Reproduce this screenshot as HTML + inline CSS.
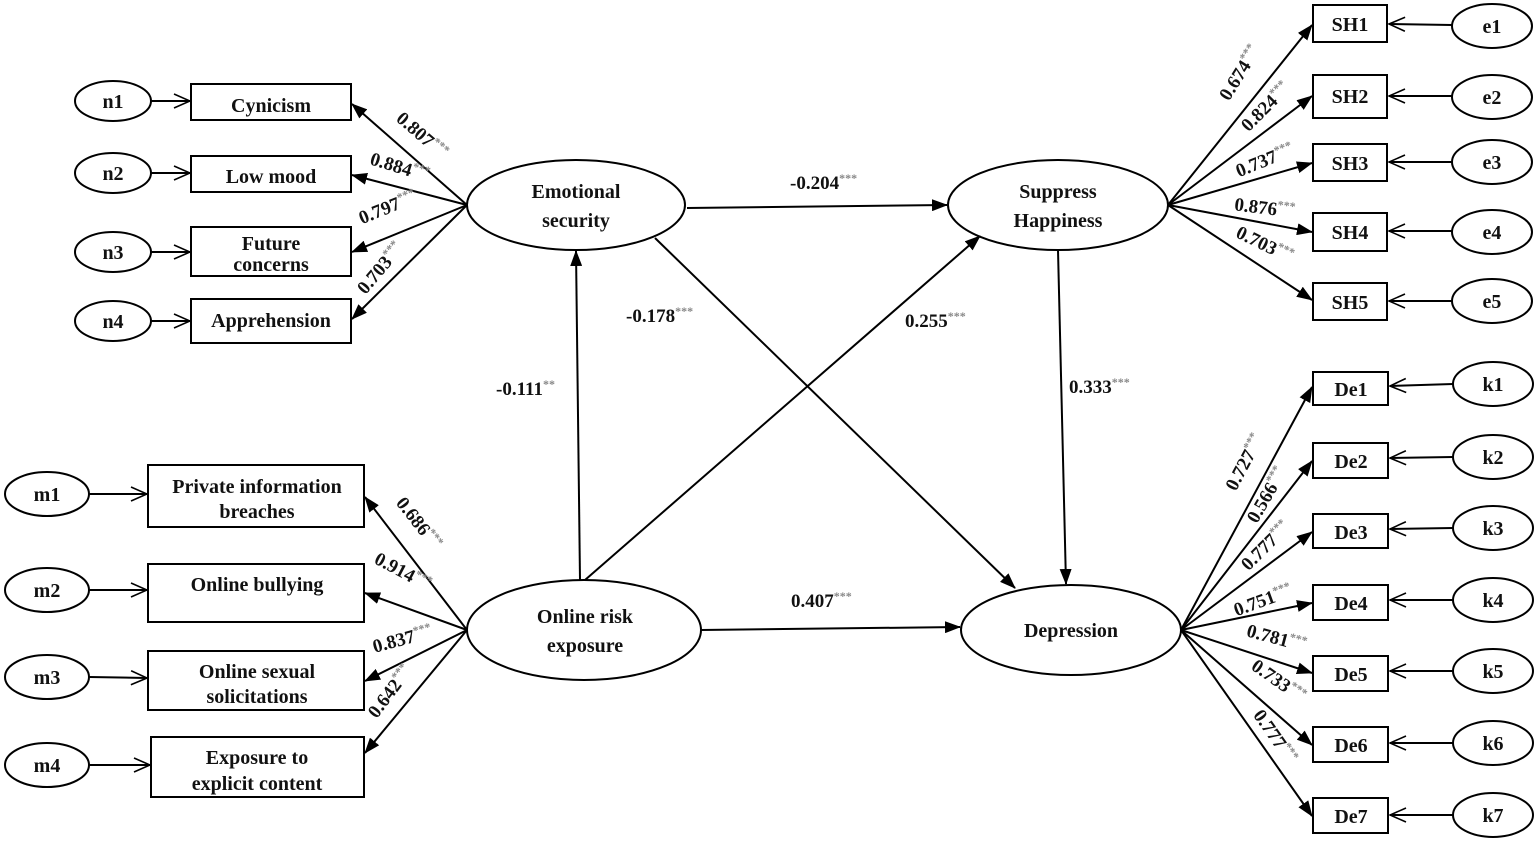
<!DOCTYPE html>
<html><head><meta charset="utf-8"><style>
html,body{margin:0;padding:0;background:#fff;}
svg{display:block;}
text{font-family:"Liberation Serif",serif;font-weight:bold;fill:#111;}
.t{font-size:20px;}
.l{font-size:19px;}
.s{font-size:12px;fill:#888;}
</style></head><body>
<svg width="1535" height="842" viewBox="0 0 1535 842" xmlns="http://www.w3.org/2000/svg">
<defs>
<marker id="f" markerWidth="16" markerHeight="12" refX="15" refY="6" orient="auto" markerUnits="userSpaceOnUse"><path d="M0,0 L16,6 L0,12 z" fill="#000"/></marker>
<marker id="o" markerWidth="18" markerHeight="16" refX="17" refY="8" orient="auto" markerUnits="userSpaceOnUse"><path d="M1,1 L17,8 L1,15" fill="none" stroke="#000" stroke-width="1.6"/></marker>
</defs>
<g stroke="#000" stroke-width="2" fill="none">
<!-- left top -->
<ellipse cx="113" cy="101" rx="38" ry="20"/><ellipse cx="113" cy="173" rx="38" ry="20"/><ellipse cx="113" cy="252" rx="38" ry="20"/><ellipse cx="113" cy="321" rx="38" ry="20"/>
<rect x="191" y="84" width="160" height="36"/><rect x="191" y="156" width="160" height="36"/><rect x="191" y="227" width="160" height="49"/><rect x="191" y="299" width="160" height="44"/>
<line x1="151" y1="101" x2="190" y2="101" marker-end="url(#o)"/><line x1="151" y1="173" x2="190" y2="173" marker-end="url(#o)"/><line x1="151" y1="252" x2="190" y2="252" marker-end="url(#o)"/><line x1="151" y1="321" x2="190" y2="321" marker-end="url(#o)"/>
<line x1="467" y1="205" x2="352" y2="104" marker-end="url(#f)"/><line x1="467" y1="205" x2="352" y2="175" marker-end="url(#f)"/><line x1="467" y1="205" x2="352" y2="252" marker-end="url(#f)"/><line x1="467" y1="205" x2="352" y2="319" marker-end="url(#f)"/>
<!-- left bottom -->
<ellipse cx="47" cy="494" rx="42" ry="22"/><ellipse cx="47" cy="590" rx="42" ry="22"/><ellipse cx="47" cy="677" rx="42" ry="22"/><ellipse cx="47" cy="765" rx="42" ry="22"/>
<rect x="148" y="465" width="216" height="62"/><rect x="148" y="564" width="216" height="58"/><rect x="148" y="651" width="216" height="59"/><rect x="151" y="737" width="213" height="60"/>
<line x1="89" y1="494" x2="147" y2="494" marker-end="url(#o)"/><line x1="89" y1="590" x2="147" y2="590" marker-end="url(#o)"/><line x1="89" y1="677" x2="147" y2="678" marker-end="url(#o)"/><line x1="89" y1="765" x2="150" y2="765" marker-end="url(#o)"/>
<line x1="467" y1="630" x2="365" y2="497" marker-end="url(#f)"/><line x1="467" y1="630" x2="365" y2="593" marker-end="url(#f)"/><line x1="467" y1="630" x2="365" y2="681" marker-end="url(#f)"/><line x1="467" y1="630" x2="365" y2="753" marker-end="url(#f)"/>
<!-- latents -->
<ellipse cx="576" cy="205" rx="109" ry="45"/><ellipse cx="1058" cy="205" rx="110" ry="45"/><ellipse cx="1071" cy="630" rx="110" ry="45"/><ellipse cx="584" cy="630" rx="117" ry="50"/>
<line x1="687" y1="208" x2="947" y2="205" marker-end="url(#f)"/>
<line x1="655" y1="238" x2="1015" y2="588" marker-end="url(#f)"/>
<line x1="580" y1="580" x2="576" y2="251" marker-end="url(#f)"/>
<line x1="585" y1="580" x2="980" y2="236" marker-end="url(#f)"/>
<line x1="1058" y1="250" x2="1066" y2="584" marker-end="url(#f)"/>
<line x1="701" y1="630" x2="960" y2="627" marker-end="url(#f)"/>
<!-- SH -->
<rect x="1313" y="5" width="74" height="37"/><rect x="1313" y="75" width="74" height="43"/><rect x="1313" y="144" width="74" height="37"/><rect x="1313" y="213" width="74" height="38"/><rect x="1313" y="283" width="74" height="37"/>
<ellipse cx="1492" cy="26" rx="40" ry="22"/><ellipse cx="1492" cy="97" rx="40" ry="22"/><ellipse cx="1492" cy="162" rx="40" ry="22"/><ellipse cx="1492" cy="232" rx="40" ry="22"/><ellipse cx="1492" cy="301" rx="40" ry="22"/>
<line x1="1452" y1="25" x2="1389" y2="24" marker-end="url(#o)"/><line x1="1452" y1="96" x2="1389" y2="96" marker-end="url(#o)"/><line x1="1452" y1="162" x2="1389" y2="162" marker-end="url(#o)"/><line x1="1452" y1="231" x2="1389" y2="231" marker-end="url(#o)"/><line x1="1452" y1="301" x2="1389" y2="301" marker-end="url(#o)"/>
<line x1="1168" y1="205" x2="1312" y2="25" marker-end="url(#f)"/><line x1="1168" y1="205" x2="1312" y2="96" marker-end="url(#f)"/><line x1="1168" y1="205" x2="1312" y2="163" marker-end="url(#f)"/><line x1="1168" y1="205" x2="1312" y2="232" marker-end="url(#f)"/><line x1="1168" y1="205" x2="1312" y2="300" marker-end="url(#f)"/>
<!-- De -->
<rect x="1313" y="372" width="75" height="33"/><rect x="1313" y="443" width="75" height="35"/><rect x="1313" y="514" width="75" height="34"/><rect x="1313" y="585" width="75" height="35"/><rect x="1313" y="656" width="75" height="35"/><rect x="1313" y="727" width="75" height="35"/><rect x="1313" y="798" width="75" height="35"/>
<ellipse cx="1493" cy="384" rx="40" ry="22"/><ellipse cx="1493" cy="457" rx="40" ry="22"/><ellipse cx="1493" cy="528" rx="40" ry="22"/><ellipse cx="1493" cy="600" rx="40" ry="22"/><ellipse cx="1493" cy="671" rx="40" ry="22"/><ellipse cx="1493" cy="743" rx="40" ry="22"/><ellipse cx="1493" cy="815" rx="40" ry="22"/>
<line x1="1453" y1="384" x2="1390" y2="386" marker-end="url(#o)"/><line x1="1453" y1="457" x2="1390" y2="458" marker-end="url(#o)"/><line x1="1453" y1="528" x2="1390" y2="529" marker-end="url(#o)"/><line x1="1453" y1="600" x2="1390" y2="600" marker-end="url(#o)"/><line x1="1453" y1="671" x2="1390" y2="671" marker-end="url(#o)"/><line x1="1453" y1="743" x2="1390" y2="743" marker-end="url(#o)"/><line x1="1453" y1="815" x2="1390" y2="815" marker-end="url(#o)"/>
<line x1="1181" y1="630" x2="1312" y2="387" marker-end="url(#f)"/><line x1="1181" y1="630" x2="1312" y2="461" marker-end="url(#f)"/><line x1="1181" y1="630" x2="1312" y2="532" marker-end="url(#f)"/><line x1="1181" y1="630" x2="1312" y2="603" marker-end="url(#f)"/><line x1="1181" y1="630" x2="1312" y2="673" marker-end="url(#f)"/><line x1="1181" y1="630" x2="1312" y2="745" marker-end="url(#f)"/><line x1="1181" y1="630" x2="1312" y2="816" marker-end="url(#f)"/>
</g>
<g class="t" text-anchor="middle">
<text class="t" x="113" y="108">n1</text><text class="t" x="113" y="180">n2</text><text class="t" x="113" y="259">n3</text><text class="t" x="113" y="328">n4</text>
<text class="t" x="271" y="112">Cynicism</text><text class="t" x="271" y="183">Low mood</text><text class="t" x="271" y="250">Future</text><text class="t" x="271" y="271">concerns</text><text class="t" x="271" y="327">Apprehension</text>
<text class="t" x="47" y="501">m1</text><text class="t" x="47" y="597">m2</text><text class="t" x="47" y="684">m3</text><text class="t" x="47" y="772">m4</text>
<text class="t" x="257" y="493">Private information</text><text class="t" x="257" y="518">breaches</text>
<text class="t" x="257" y="591">Online bullying</text>
<text class="t" x="257" y="678">Online sexual</text><text class="t" x="257" y="703">solicitations</text>
<text class="t" x="257" y="764">Exposure to</text><text class="t" x="257" y="790">explicit content</text>
<text class="t" x="576" y="198">Emotional</text><text class="t" x="576" y="227">security</text>
<text class="t" x="1058" y="198">Suppress</text><text class="t" x="1058" y="227">Happiness</text>
<text class="t" x="1071" y="637">Depression</text>
<text class="t" x="585" y="623">Online risk</text><text class="t" x="585" y="652">exposure</text>
<text class="t" x="1350" y="31">SH1</text><text class="t" x="1350" y="103">SH2</text><text class="t" x="1350" y="170">SH3</text><text class="t" x="1350" y="239">SH4</text><text class="t" x="1350" y="309">SH5</text>
<text class="t" x="1492" y="33">e1</text><text class="t" x="1492" y="104">e2</text><text class="t" x="1492" y="169">e3</text><text class="t" x="1492" y="239">e4</text><text class="t" x="1492" y="308">e5</text>
<text class="t" x="1351" y="396">De1</text><text class="t" x="1351" y="468">De2</text><text class="t" x="1351" y="539">De3</text><text class="t" x="1351" y="610">De4</text><text class="t" x="1351" y="681">De5</text><text class="t" x="1351" y="752">De6</text><text class="t" x="1351" y="823">De7</text>
<text class="t" x="1493" y="391">k1</text><text class="t" x="1493" y="464">k2</text><text class="t" x="1493" y="535">k3</text><text class="t" x="1493" y="607">k4</text><text class="t" x="1493" y="678">k5</text><text class="t" x="1493" y="750">k6</text><text class="t" x="1493" y="822">k7</text>
</g>
<g class="l">
<text class="l" x="790" y="189">-0.204<tspan class="s" dy="-7">***</tspan></text>
<text class="l" x="626" y="322">-0.178<tspan class="s" dy="-7">***</tspan></text>
<text class="l" x="496" y="395">-0.111<tspan class="s" dy="-7">**</tspan></text>
<text class="l" x="905" y="327">0.255<tspan class="s" dy="-7">***</tspan></text>
<text class="l" x="1069" y="393">0.333<tspan class="s" dy="-7">***</tspan></text>
<text class="l" x="791" y="607">0.407<tspan class="s" dy="-7">***</tspan></text>
</g>
<g class="l" text-anchor="middle">
<text class="l" transform="translate(418,140) rotate(41)">0.807<tspan class="s" dy="-7">***</tspan></text>
<text class="l" transform="translate(398,173) rotate(17)">0.884<tspan class="s" dy="-7">***</tspan></text>
<text class="l" transform="translate(390,213) rotate(-22)">0.797<tspan class="s" dy="-7">***</tspan></text>
<text class="l" transform="translate(385,272) rotate(-50)">0.703<tspan class="s" dy="-7">***</tspan></text>
<text class="l" transform="translate(414,527) rotate(52)">0.686<tspan class="s" dy="-7">***</tspan></text>
<text class="l" transform="translate(400,577) rotate(28)">0.914<tspan class="s" dy="-7">***</tspan></text>
<text class="l" transform="translate(404,645) rotate(-15)">0.837<tspan class="s" dy="-7">***</tspan></text>
<text class="l" transform="translate(395,695) rotate(-53)">0.642<tspan class="s" dy="-7">***</tspan></text>
<text class="l" transform="translate(1245,76) rotate(-58)">0.674<tspan class="s" dy="-7">***</tspan></text>
<text class="l" transform="translate(1270,111) rotate(-45)">0.824<tspan class="s" dy="-7">***</tspan></text>
<text class="l" transform="translate(1267,166) rotate(-22)">0.737<tspan class="s" dy="-7">***</tspan></text>
<text class="l" transform="translate(1264,214) rotate(7)">0.876<tspan class="s" dy="-7">***</tspan></text>
<text class="l" transform="translate(1262,250) rotate(26)">0.703<tspan class="s" dy="-7">***</tspan></text>
<text class="l" transform="translate(1250,465) rotate(-62)">0.727<tspan class="s" dy="-7">***</tspan></text>
<text class="l" transform="translate(1272,498) rotate(-60)">0.566<tspan class="s" dy="-7">***</tspan></text>
<text class="l" transform="translate(1270,550) rotate(-45)">0.777<tspan class="s" dy="-7">***</tspan></text>
<text class="l" transform="translate(1265,606) rotate(-20)">0.751<tspan class="s" dy="-7">***</tspan></text>
<text class="l" transform="translate(1275,644) rotate(15)">0.781<tspan class="s" dy="-7">***</tspan></text>
<text class="l" transform="translate(1275,686) rotate(35)">0.733<tspan class="s" dy="-7">***</tspan></text>
<text class="l" transform="translate(1270,740) rotate(55)">0.777<tspan class="s" dy="-7">***</tspan></text>
</g>
</svg>
</body></html>
